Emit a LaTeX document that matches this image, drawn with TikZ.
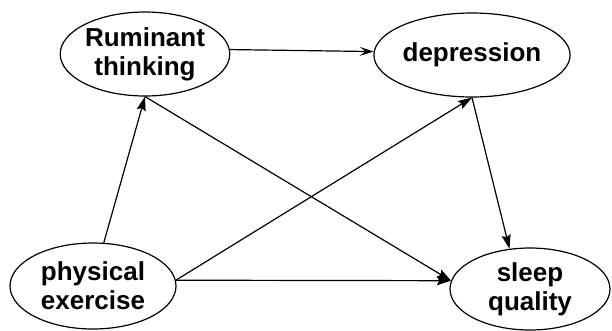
\documentclass[tikz,border=0pt]{standalone}
\usepackage{fontspec}
\setmainfont{Liberation Sans}
\usetikzlibrary{shapes.geometric,arrows.meta}
\begin{document}
\begin{tikzpicture}[x=1pt,y=-1pt,
  var/.style={draw, ellipse, line width=1.2pt, inner sep=0pt, align=center,
    font=\fontsize{26}{29}\selectfont\bfseries},
  conn/.style={line width=1.2pt, -{Stealth[length=14pt,width=9pt,inset=2pt]}},
  thin conn/.style={line width=1.2pt, -{Stealth[length=14pt,width=9pt,inset=6pt]}}]
\useasboundingbox (0,0) rectangle (612,330);
\node[var, minimum width=167pt, minimum height=84pt] (rum) at (145,54) {Ruminant\\thinking};
\node[var, minimum width=167pt, minimum height=84pt] (dep) at (472,55) {depression};
\node[var, minimum width=166pt, minimum height=86pt] (phys) at (93,286) {physical\\exercise};
\node[var, minimum width=160pt, minimum height=82pt] (sleep) at (530,289) {sleep\\quality};
\draw[thin conn] (rum.3) -- (dep.178);
\draw[conn] (phys.76) -- (rum.south);
\draw[conn] (rum.south) -- (sleep.174);
\draw[conn] (phys.4) -- (dep.south);
\draw[conn] (phys.4) -- (sleep.174);
\draw[conn] (dep.south) -- (sleep.117);
\end{tikzpicture}
\end{document}
